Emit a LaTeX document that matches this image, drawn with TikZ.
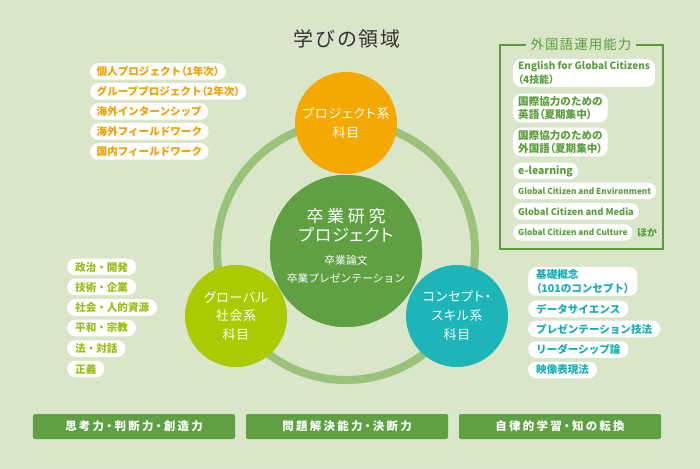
\documentclass[tikz,border=0pt]{standalone}
\usepackage{fontspec}
\setmainfont{Noto Sans CJK JP}[RawFeature=+palt]
\newfontfamily\jpwide{Noto Sans CJK JP}
\newfontfamily\jpprop{Noto Sans CJK JP}[RawFeature=+palt]
\newcommand{\lparen}{{\jpprop（}}
\newcommand{\rparen}{{\jpprop）}}
\definecolor{bgsage}{HTML}{D9E6CA}
\definecolor{ringgreen}{HTML}{9BC27A}
\definecolor{coregreen}{HTML}{5FA043}
\definecolor{projorange}{HTML}{F5A800}
\definecolor{globlime}{HTML}{AACB00}
\definecolor{skillteal}{HTML}{1DB5B8}
\definecolor{projtext}{HTML}{F0A000}
\definecolor{globtext}{HTML}{98BE10}
\definecolor{skilltext}{HTML}{19AEB3}
\definecolor{langtext}{HTML}{5A9E3A}
\definecolor{titlegray}{HTML}{333333}
\tikzset{
  tagbox/.style={fill=white, rounded corners=8bp, anchor=west, inner xsep=6.5bp, inner ysep=2.5bp, minimum height=16.5bp, font=\jpwide\fontsize{10.6}{13.5}\selectfont\bfseries},
  projtag/.style={tagbox, text=projtext},
  globtag/.style={tagbox, text=globtext, inner xsep=8bp},
  skilltag/.style={tagbox, text=skilltext, align=left, inner xsep=8bp},
  langtag/.style={tagbox, text=langtext, align=left, inner xsep=5bp},
  subject/.style={circle, minimum size=102bp, inner sep=0pt, text=white, align=center, font=\fontsize{13}{19}\selectfont\addfontfeature{LetterSpace=6}},
  skillbar/.style={fill=coregreen, rounded corners=2bp, minimum width=202bp, minimum height=25bp, inner sep=0pt, text=white, font=\fontsize{11.5}{14}\selectfont\bfseries\addfontfeature{LetterSpace=20}}
}
\begin{document}
\begin{tikzpicture}[x=1bp, y=-1bp]
\fill[bgsage] (0,0) rectangle (700,469);
\useasboundingbox (0,0) rectangle (700,469);
\node[text=titlegray, font=\jpwide\fontsize{20}{24}\selectfont\addfontfeature{LetterSpace=10}] (title) at (347,39) {学びの領域};
% ring and circles
\node[circle, fill=coregreen, minimum size=152bp, inner sep=0pt] (core) at (346,251) {};
\draw[ringgreen, line width=8bp] (core.center) circle[radius=129bp];
\fill[coregreen] (core.center) circle[radius=76bp];
\node[subject, fill=projorange] (project) at (346,123) {プロジェクト系\\科目};
\node[subject, fill=globlime] (global) at (236,316) {グローバル\\社会系\\科目};
\node[subject, fill=skillteal] (skill) at (457,316) {コンセプト・\\スキル系\\科目};
\node[text=white, align=center, font=\fontsize{17}{19}\selectfont] (coretitle) at (346,225) {{\addfontfeature{LetterSpace=22}卒業研究}\\{\addfontfeature{LetterSpace=5}プロジェクト}};
\node[text=white, align=center, font=\jpwide\fontsize{10.8}{18}\selectfont] (coresub) at (346,269) {卒業論文\\卒業プレゼンテーション};
% project tags
\node[projtag] (ptag1) at (90,71.5) {個人プロジェクト\lparen 1年次\rparen};
\node[projtag] (ptag2) at (90,91.5) {グループプロジェクト\lparen 2年次\rparen};
\node[projtag] (ptag3) at (90,111.5) {海外インターンシップ};
\node[projtag] (ptag4) at (90,131.5) {海外フィールドワーク};
\node[projtag] (ptag5) at (90,151.5) {国内フィールドワーク};
% global tags
\node[globtag] (gtag1) at (67,267) {政治・開発};
\node[globtag] (gtag2) at (67,287) {技術・企業};
\node[globtag] (gtag3) at (67,307.5) {社会・人的資源};
\node[globtag] (gtag4) at (67,328) {平和・宗教};
\node[globtag] (gtag5) at (67,348.5) {法・対話};
\node[globtag] (gtag6) at (67,369) {正義};
% skill tags
\node[skilltag] (stag1) at (528,281.5) {基礎概念\\\lparen 101のコンセプト\rparen};
\node[skilltag] (stag2) at (528,309) {データサイエンス};
\node[skilltag] (stag3) at (528,329) {プレゼンテーション技法};
\node[skilltag] (stag4) at (528,349.5) {リーダーシップ論};
\node[skilltag] (stag5) at (528,370) {映像表現法};
% language box
\draw[langtext, line width=1.6bp] (500,45) rectangle (663,249);
\node[fill=bgsage, inner xsep=5bp, text=langtext, font=\jpwide\fontsize{13.5}{16}\selectfont\addfontfeature{LetterSpace=8}] (langtitle) at (581,44) {外国語運用能力};
\node[langtag, font=\fontsize{10}{13.5}\selectfont\bfseries] (ltag1) at (513,73) {English for Global Citizens\\\lparen 4技能\rparen};
\node[langtag] (ltag2) at (513,108) {国際協力のための\\英語\lparen 夏期集中\rparen};
\node[langtag] (ltag3) at (513,142) {国際協力のための\\外国語\lparen 夏期集中\rparen};
\node[langtag, font=\fontsize{10.5}{13}\selectfont\bfseries] (ltag4) at (513,171) {e-learning};
\node[langtag, font=\fontsize{8.3}{10}\selectfont\bfseries] (ltag5) at (513,191) {Global Citizen and Environment};
\node[langtag, font=\fontsize{9.3}{11}\selectfont\bfseries] (ltag6) at (513,211.5) {Global Citizen and Media};
\node[langtag, font=\fontsize{8.3}{10}\selectfont\bfseries] (ltag7) at (513,232.5) {Global Citizen and Culture};
\node[anchor=west, inner sep=0pt, text=langtext, font=\fontsize{10}{12}\selectfont\bfseries] (hoka) at (637,232.5) {ほか};
% bars
\node[skillbar] (bar1) at (134,426.5) {思考力・判断力・創造力};
\node[skillbar] (bar2) at (347,426.5) {問題解決能力・決断力};
\node[skillbar] (bar3) at (560,426.5) {自律的学習・知の転換};
\end{tikzpicture}
\end{document}
